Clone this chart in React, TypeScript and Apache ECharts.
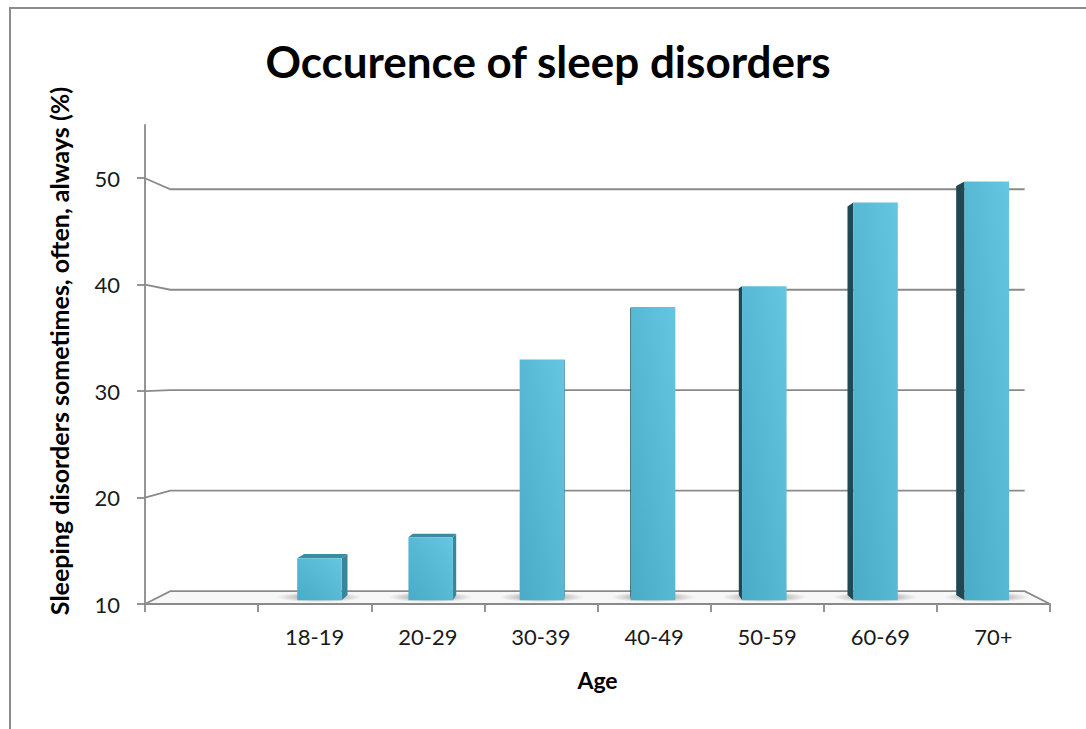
import React, { useEffect, useRef } from 'react';
import * as echarts from 'echarts';

const categories = ['', '18-19', '20-29', '30-39', '40-49', '50-59', '60-69', '70+'];
const values: (number | null)[] = [null, 14, 16, 33, 38, 40, 48, 50];
const yTicks = [10, 20, 30, 40, 50];
const yMin = 10;
const yMax = 55;
const chartTitle = 'Occurence of sleep disorders';
const yTitle = 'Sleeping disorders sometimes, often, always (%)';
const xTitle = 'Age';

const FONT = 'Lato, "Open Sans", sans-serif';
const GRID_COLOR = '#8a8a8a';
const S_BACK = 0.944;
const HORIZON = 31.5;
const D1 = 0.3;
const D2 = 0.7;
const BAR_FRAC = 0.4;

function persp(vx: number, vy: number) {
  return (x: number, y: number, d: number) => {
    const s = 1 - d * (1 - S_BACK);
    return [vx + s * (x - vx), vy + s * (y - vy)];
  };
}

function renderWall(params: any, api: any) {
  const cs = params.coordSys;
  const v = api.value(1);
  const vx = cs.x + cs.width / 2;
  const vy = api.coord([0, HORIZON])[1];
  const P = persp(vx, vy);
  const y = api.coord([0, v])[1];
  const x0 = cs.x;
  const x1 = cs.x + cs.width;
  const bl = P(x0, y, 1);
  const br = P(x1, y, 1);
  if (v === yTicks[0]) {
    return {
      type: 'polygon',
      shape: { points: [[x0, y], [x1, y], br, bl] },
      style: { fill: '#f7f7f7', stroke: GRID_COLOR, lineWidth: 1.8 },
    };
  }
  return {
    type: 'polyline',
    shape: { points: [[x0, y], bl, br] },
    style: { fill: null, stroke: GRID_COLOR, lineWidth: 1.8 },
  };
}

function renderBar(params: any, api: any) {
  const cs = params.coordSys;
  const idx = api.value(0);
  const v = api.value(1);
  const vx = cs.x + cs.width / 2;
  const vy = api.coord([0, HORIZON])[1];
  const P = persp(vx, vy);
  const top = api.coord([idx, v]);
  const base = api.coord([idx, yMin]);
  const bw = api.size([1, 0])[0] * BAR_FRAC;
  const xl = top[0] - bw / 2;
  const xr = top[0] + bw / 2;
  const yt = top[1];
  const yb = base[1];
  const f = (x: number, y: number) => P(x, y, D1);
  const b = (x: number, y: number) => P(x, y, D2);
  const children: any[] = [];
  const fb = f(top[0], yb);
  children.push({
    type: 'ellipse',
    shape: { cx: fb[0], cy: fb[1] - 3, rx: bw / 2 + 20, ry: 5 },
    style: {
      fill: new echarts.graphic.RadialGradient(0.5, 0.5, 0.5, [
        { offset: 0, color: 'rgba(0,0,0,0.45)' },
        { offset: 1, color: 'rgba(0,0,0,0)' },
      ]),
    },
  });
  const cxFront = f(top[0], yt)[0];
  if (cxFront > vx) {
    children.push({
      type: 'polygon',
      shape: { points: [f(xl, yt), b(xl, yt), b(xl, yb), f(xl, yb)] },
      style: { fill: '#1f4852' },
    });
  } else {
    children.push({
      type: 'polygon',
      shape: { points: [f(xr, yt), b(xr, yt), b(xr, yb), f(xr, yb)] },
      style: { fill: '#35879e' },
    });
  }
  if (yt > vy) {
    children.push({
      type: 'polygon',
      shape: { points: [f(xl, yt), f(xr, yt), b(xr, yt), b(xl, yt)] },
      style: { fill: '#3a8ca4' },
    });
  }
  const a = f(xl, yt);
  const c = f(xr, yb);
  children.push({
    type: 'rect',
    shape: { x: a[0], y: a[1], width: c[0] - a[0], height: c[1] - a[1] },
    style: {
      fill: new echarts.graphic.LinearGradient(1, 0, 0, 1, [
        { offset: 0, color: '#64c6e1' },
        { offset: 1, color: '#4aabc6' },
      ]),
    },
  });
  return { type: 'group', children };
}

export default function App() {
  const ref = useRef<HTMLDivElement>(null);
  useEffect(() => {
    if (!ref.current) return;
    const chart = echarts.init(ref.current, undefined, { renderer: 'svg' });
    const barData = categories
      .map((c, i) => (values[i] == null ? null : [i, values[i]]))
      .filter((d) => d != null);
    const wallData = yTicks.map((t) => [0, t]);
    chart.setOption({
      animation: false,
      backgroundColor: '#ffffff',
      grid: { left: 145, right: 36, top: 125, bottom: 125, containLabel: false },
      xAxis: {
        type: 'category',
        data: categories,
        boundaryGap: true,
        axisLine: { show: true, lineStyle: { color: GRID_COLOR, width: 1.8 } },
        axisTick: { show: true, length: 8, lineStyle: { color: GRID_COLOR, width: 1.8 } },
        axisLabel: { color: '#1a1a1a', fontSize: 22, fontFamily: FONT, margin: 21 },
        splitLine: { show: false },
        name: xTitle,
        nameLocation: 'middle',
        nameGap: 64,
        nameTextStyle: { color: '#000', fontSize: 23, fontWeight: 'bold', fontFamily: FONT },
      },
      yAxis: {
        type: 'value',
        min: yMin,
        max: yMax,
        interval: 10,
        axisLine: { show: true, lineStyle: { color: GRID_COLOR, width: 1.8 } },
        axisTick: { show: true, length: 8, customValues: yTicks, lineStyle: { color: GRID_COLOR, width: 1.8 } },
        axisLabel: { color: '#1a1a1a', fontSize: 22, fontFamily: FONT, margin: 25, customValues: yTicks },
        splitLine: { show: false },
      },
      graphic: [
        {
          type: 'rect',
          silent: true,
          shape: { x: 10, y: 8, width: 1200, height: 900 },
          style: { fill: 'rgba(0,0,0,0)', stroke: '#8c8c8c', lineWidth: 2 },
        },
        {
          type: 'text',
          x: 548,
          y: 61,
          style: {
            text: chartTitle,
            font: `bold 44px ${FONT}`,
            fill: '#000',
            align: 'center',
            verticalAlign: 'middle',
            textAlign: 'center',
            textVerticalAlign: 'middle',
          },
        },
        {
          type: 'text',
          x: 59,
          y: 351,
          rotation: Math.PI / 2,
          style: {
            text: yTitle,
            font: `bold 25px ${FONT}`,
            fill: '#000',
            align: 'center',
            verticalAlign: 'middle',
            textAlign: 'center',
            textVerticalAlign: 'middle',
          },
        },
      ],
      series: [
        {
          type: 'custom',
          name: 'walls',
          coordinateSystem: 'cartesian2d',
          renderItem: renderWall,
          data: wallData,
          encode: { x: 0, y: 1 },
          silent: true,
          z: 1,
        },
        {
          type: 'custom',
          name: 'Sleeping disorders',
          coordinateSystem: 'cartesian2d',
          renderItem: renderBar,
          data: barData,
          encode: { x: 0, y: 1 },
          z: 2,
        },
      ],
    });
    return () => chart.dispose();
  }, []);
  return (
    <div
      ref={ref}
      style={{ position: 'fixed', left: 0, top: 0, width: 1086, height: 729, background: '#fff' }}
    />
  );
}
